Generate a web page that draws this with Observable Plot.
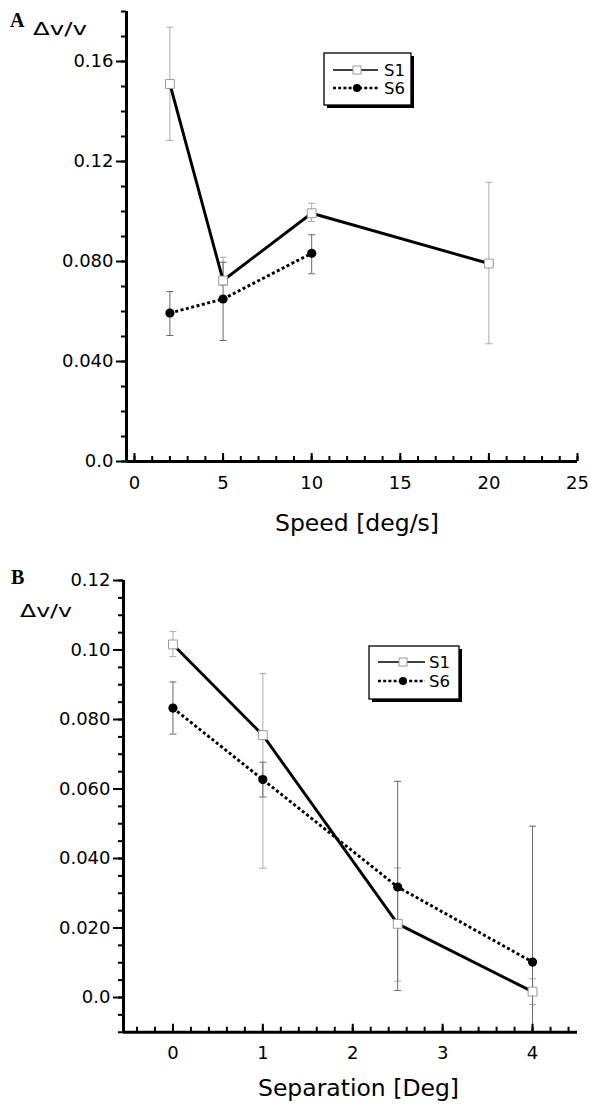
<!DOCTYPE html>
<html><head><meta charset="utf-8">
<script src="https://cdn.jsdelivr.net/npm/d3@7"></script>
<script src="https://cdn.jsdelivr.net/npm/@observablehq/plot@0.6"></script>
<style>
html,body{margin:0;padding:0;background:#fff}
#wrap{position:relative;width:591px;height:1104px;overflow:hidden;font-family:"DejaVu Sans",sans-serif}
#wrap svg{display:block}
#overlay{position:absolute;left:0;top:0;pointer-events:none}
</style></head><body><div id="wrap"></div>
<script>
// ---------- Panel A: speed ----------
const speedS1 = [2, 5, 10, 20];
const dvS1A   = [0.1510, 0.0724, 0.0993, 0.0792];
const loS1A   = [0.1284, 0.0704, 0.0960, 0.0471];
const hiS1A   = [0.1737, 0.0817, 0.1033, 0.1117];
const speedS6 = [2, 5, 10];
const dvS6A   = [0.0594, 0.0650, 0.0833];
const loS6A   = [0.0504, 0.0484, 0.0751];
const hiS6A   = [0.0680, 0.0797, 0.0907];
const xTicksA = [0, 5, 10, 15, 20, 25];
const yTicksA = [0, 0.04, 0.08, 0.12, 0.16];
const yLabelsA = ["0.0", "0.040", "0.080", "0.12", "0.16"];

// ---------- Panel B: separation ----------
const sepS1 = [0, 1, 2.5, 4];
const dvS1B = [0.1016, 0.0755, 0.0212, 0.0017];
const loS1B = [0.0981, 0.0372, 0.0047, -0.0020];
const hiS1B = [0.1053, 0.0932, 0.0373, 0.0054];
const sepS6 = [0, 1, 2.5, 4];
const dvS6B = [0.0833, 0.0627, 0.0318, 0.0102];
const loS6B = [0.0758, 0.0577, 0.0020, -0.0286];
const hiS6B = [0.0908, 0.0677, 0.0622, 0.0493];
const xTicksB = [0, 1, 2, 3, 4];
const yTicksB = [0, 0.02, 0.04, 0.06, 0.08, 0.10, 0.12];
const yLabelsB = ["0.0", "0.020", "0.040", "0.060", "0.080", "0.10", "0.12"];

const seriesNames = ["S1", "S6"];

const capSymbol = {draw(ctx, size) { const r = Math.sqrt(size / Math.PI); ctx.moveTo(-r, 0); ctx.lineTo(r, 0); }};

function panel(cfg) {
  const {xDomain, yDomain, height, mL, mR, mT, mB, xMajor, xMinor, yMajor, yLabels, yMinor,
         s1, s6, title, titleDy, titleDx, xPad} = cfg;
  const lab = new Map(yMajor.map((d, i) => [d, yLabels[i]]));
  const errMarks = (s, color) => {
    const I = d3.range(s.x.length);
    return [
      Plot.ruleX(I, {x: i => s.x[i], y1: i => s.lo[i], y2: i => s.hi[i], stroke: color, strokeWidth: 1, clip: true}),
      Plot.dot(I, {x: i => s.x[i], y: i => s.lo[i], symbol: capSymbol, r: 3.5, stroke: color, strokeWidth: 1, clip: true}),
      Plot.dot(I, {x: i => s.x[i], y: i => s.hi[i], symbol: capSymbol, r: 3.5, stroke: color, strokeWidth: 1, clip: true})
    ];
  };
  const I1 = d3.range(s1.x.length), I6 = d3.range(s6.x.length);
  return Plot.plot({
    width: 591, height, marginLeft: mL, marginRight: mR, marginTop: mT, marginBottom: mB,
    x: {domain: xDomain}, y: {domain: yDomain},
    style: {fontFamily: "'DejaVu Sans', sans-serif", fontSize: "18px", color: "#000", background: "transparent"},
    marks: [
      ...errMarks(s1, "#ababab"),
      ...errMarks(s6, "#6a6a6a"),
      Plot.line(I6, {x: i => s6.x[i], y: i => s6.y[i], stroke: "#000", strokeWidth: 2.9,
                     strokeDasharray: "3,2.5", strokeLinecap: "butt"}),
      Plot.line(I1, {x: i => s1.x[i], y: i => s1.y[i], stroke: "#000", strokeWidth: 2.9}),
      Plot.dot(I6, {x: i => s6.x[i], y: i => s6.y[i], r: 4.6, fill: "#000"}),
      Plot.dot(I1, {x: i => s1.x[i], y: i => s1.y[i], symbol: "square", r: 5, fill: "#fff", stroke: "#9a9a9a", strokeWidth: 1}),
      Plot.axisX({ticks: xMajor, tickSize: 0, tickPadding: xPad, fontSize: 18, tickFormat: d => String(d)}),
      Plot.axisX({ticks: xMinor, tickSize: 5, dy: -5, tickFormat: () => "", strokeWidth: 2}),
      Plot.axisX({ticks: xMajor, tickSize: 8, dy: -8, tickFormat: () => "", strokeWidth: 2}),
      Plot.axisY({ticks: yMinor, tickSize: 5, tickFormat: () => "", strokeWidth: 2}),
      Plot.axisY({ticks: yMajor, tickSize: 10, tickPadding: 3, tickFormat: d => lab.get(d), strokeWidth: 2, fontSize: 18}),
      Plot.ruleY([yDomain[0]], {stroke: "#000", strokeWidth: 3}),
      Plot.ruleX([xDomain[0]], {stroke: "#000", strokeWidth: 3}),
      Plot.text([title], {text: d => d, frameAnchor: "bottom", lineAnchor: "bottom", dy: titleDy, dx: titleDx, fontSize: 23.5})
    ]
  });
}

const wrap = document.getElementById("wrap");

const chartA = panel({
  xDomain: [-0.45, 25], yDomain: [0, 0.18], height: 546, mL: 126, mR: 14, mT: 11, mB: 85,
  xMajor: xTicksA, xMinor: d3.range(0, 26, 1), yMajor: yTicksA, yLabels: yLabelsA,
  yMinor: d3.range(0, 0.1801, 0.01),
  s1: {x: speedS1, y: dvS1A, lo: loS1A, hi: hiS1A},
  s6: {x: speedS6, y: dvS6A, lo: loS6A, hi: hiS6A},
  title: "Speed [deg/s]", titleDy: 69, titleDx: 5, xPad: 15
});
const chartB = panel({
  xDomain: [-0.55, 4.5], yDomain: [-0.01, 0.12], height: 558, mL: 123, mR: 14, mT: 34, mB: 72.25,
  xMajor: xTicksB, xMinor: d3.range(-0.4, 4.5, 0.2), yMajor: yTicksB, yLabels: yLabelsB,
  yMinor: d3.range(-0.01, 0.12001, 0.005),
  s1: {x: sepS1, y: dvS1B, lo: loS1B, hi: hiS1B},
  s6: {x: sepS6, y: dvS6B, lo: loS6B, hi: hiS6B},
  title: "Separation [Deg]", titleDy: 64, titleDx: 8, xPad: 14
});
wrap.appendChild(chartA);
wrap.appendChild(chartB);

// ---------- overlay: panel letters, y titles, legends ----------
const ov = d3.select(wrap).append("svg").attr("id", "overlay").attr("width", 591).attr("height", 1104);
ov.append("text").text("A").attr("x", 10).attr("y", 27).attr("font-family", "'Liberation Serif', serif")
  .attr("font-weight", "bold").attr("font-size", 20);
ov.append("text").text("Δv/v").attr("x", 33).attr("y", 35).attr("font-family", "'DejaVu Sans', sans-serif")
  .attr("font-size", 17).attr("textLength", 54).attr("lengthAdjust", "spacingAndGlyphs");
ov.append("text").text("B").attr("x", 11).attr("y", 584).attr("font-family", "'Liberation Serif', serif")
  .attr("font-weight", "bold").attr("font-size", 20);
ov.append("text").text("Δv/v").attr("x", 20).attr("y", 617).attr("font-family", "'DejaVu Sans', sans-serif")
  .attr("font-size", 17).attr("textLength", 52).attr("lengthAdjust", "spacingAndGlyphs");

function legend(x0, y0, w, h, lineX0, lineX1, symX, textX, rows) {
  const g = ov.append("g");
  g.append("rect").attr("x", x0 + 3).attr("y", y0 + 3).attr("width", w).attr("height", h).attr("fill", "#000");
  g.append("rect").attr("x", x0).attr("y", y0).attr("width", w).attr("height", h).attr("fill", "#fff")
    .attr("stroke", "#000").attr("stroke-width", 1.3);
  rows.forEach((ry, i) => {
    const dashed = i === 1;
    g.append("line").attr("x1", lineX0).attr("x2", lineX1).attr("y1", ry).attr("y2", ry)
      .attr("stroke", "#000").attr("stroke-width", dashed ? 2.6 : 1.5)
      .attr("stroke-dasharray", dashed ? "3,2.2" : null);
    if (dashed) g.append("circle").attr("cx", symX).attr("cy", ry).attr("r", 4).attr("fill", "#000");
    else g.append("rect").attr("x", symX - 4).attr("y", ry - 4).attr("width", 8).attr("height", 8)
      .attr("fill", "#fff").attr("stroke", "#9a9a9a");
    g.append("text").text(seriesNames[i]).attr("x", textX).attr("y", ry + 6)
      .attr("font-family", "'DejaVu Sans', sans-serif").attr("font-size", 16.5);
  });
}
legend(324, 53, 87, 52, 333, 378, 357, 384, [70, 88]);
legend(369, 646, 90, 53, 378, 425, 403, 429, [662, 681]);
</script></body></html>
